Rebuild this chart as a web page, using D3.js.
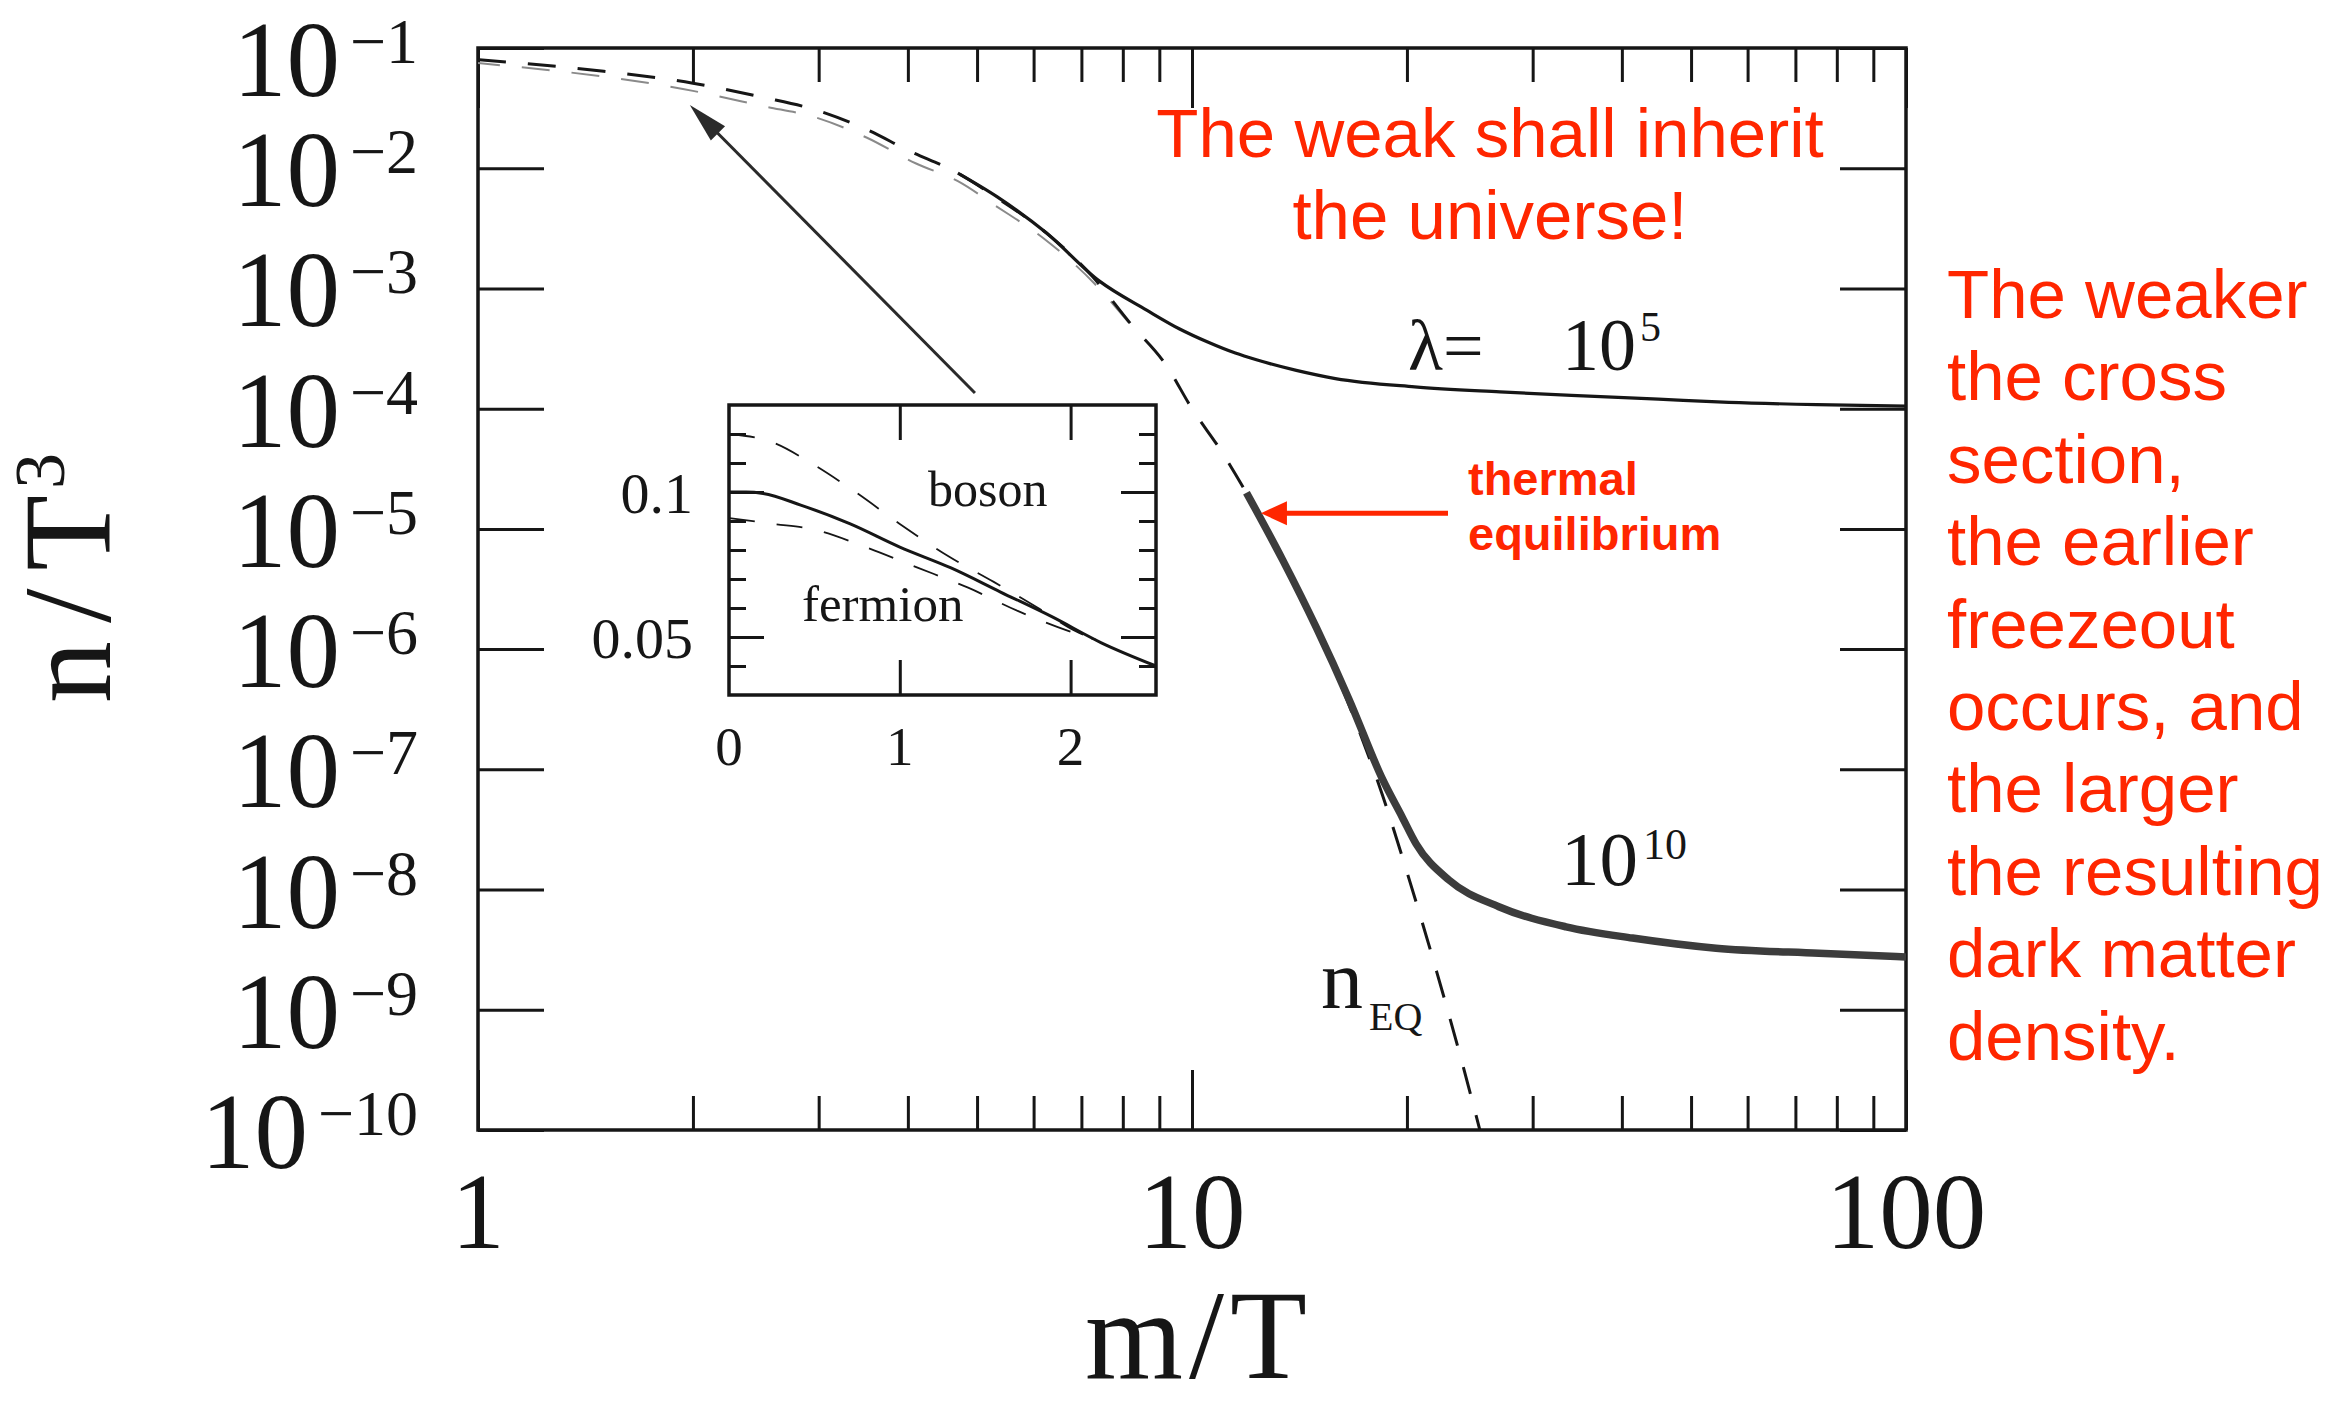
<!DOCTYPE html>
<html>
<head>
<meta charset="utf-8">
<script src="https://cdn.jsdelivr.net/npm/d3@7"></script>
<style>
  html, body { margin: 0; padding: 0; background: #fff; }
  svg { display: block; }
</style>
</head>
<body>
<svg id="chart" width="2335" height="1407"></svg>
<script>
// ---- Data: relic abundance n/T^3 versus m/T ----
// Equilibrium abundance n_EQ (dashed)
const eqX = [1, 1.5, 2, 2.5, 3, 3.5, 4, 4.7, 5.3, 6.25, 7.26, 8.2, 9.2, 10, 11, 12, 13.4, 15, 16.6, 18.5, 20, 22, 24, 25.3];
const eqY = [0.080, 0.064, 0.051, 0.039, 0.030, 0.021, 0.0141, 0.0091, 0.0058, 0.0029, 1.25e-3, 5.1e-4, 2.3e-4, 1.0e-4, 4.4e-5, 1.85e-5, 5.4e-6, 1.4e-6, 3.4e-7, 6.0e-8, 1.4e-8, 2.1e-9, 3.3e-10, 1.0e-10];
// Second, fainter equilibrium trace at early times
const eq2X = [1, 2, 2.5, 3, 3.5, 4.1, 4.7, 5.3, 6.2, 7.3, 8.2];
const eq2Y = [0.075, 0.044, 0.033, 0.026, 0.018, 0.011, 0.0078, 0.0049, 0.0026, 1.1e-3, 5.0e-4];
// Actual abundance for lambda = 1e5
const l5X = [4.7, 5.33, 6.25, 7.42, 8.64, 9.61, 10.5, 11.5, 12.31, 14, 15.88, 20.5, 27, 34, 45, 56.5, 75, 100];
const l5Y = [0.0091, 0.0058, 0.0029, 1.15e-3, 6.6e-4, 4.6e-4, 3.6e-4, 2.9e-4, 2.55e-4, 2.08e-4, 1.78e-4, 1.52e-4, 1.38e-4, 1.29e-4, 1.2e-4, 1.13e-4, 1.08e-4, 1.05e-4];
// Actual abundance for lambda = 1e10
const l10X = [11.92, 13.4, 14.94, 16.6, 18.5, 19.7, 20.6, 22.9, 26.9, 33.4, 41.4, 54.2, 75.5, 100];
const l10Y = [2.0e-5, 5.5e-6, 1.5e-6, 3.8e-7, 8.2e-8, 4.0e-8, 2.4e-8, 1.2e-8, 7.2e-9, 4.9e-9, 3.95e-9, 3.25e-9, 2.95e-9, 2.75e-9];

// Axis ticks
const xMajor = [1, 10, 100];
const xMinor = [2, 3, 4, 5, 6, 7, 8, 9, 20, 30, 40, 50, 60, 70, 80, 90];
const yExponents = [-1, -2, -3, -4, -5, -6, -7, -8, -9, -10];

// Inset: low-m/T behaviour (linear axes)
const insetSolidX = [0, 0.1, 0.2, 0.42, 0.71, 1.0, 1.3, 1.59, 1.89, 2.18, 2.5];
const insetSolidY = [0.100, 0.100, 0.0995, 0.0955, 0.089, 0.081, 0.0738, 0.0655, 0.057, 0.048, 0.040];
const bosonX = [0, 0.26, 0.48, 0.74, 1.0, 1.28, 1.55, 1.81, 2.03, 2.15];
const bosonY = [0.120, 0.117, 0.110, 0.100, 0.089, 0.078, 0.069, 0.060, 0.052, 0.049];
const fermionX = [0, 0.26, 0.5, 0.8, 1.1, 1.4, 1.69, 1.99, 2.15];
const fermionY = [0.091, 0.089, 0.087, 0.081, 0.074, 0.067, 0.059, 0.052, 0.049];
const insetXTicks = [0, 1, 2];
const insetYMajor = [0.05, 0.1];
const insetYMinor = [0.04, 0.06, 0.07, 0.08, 0.09, 0.11, 0.12];

// Annotation text
const topNote = ["The weak shall inherit", "the universe!"];
const sideNote = ["The weaker", "the cross", "section,", "the earlier", "freezeout", "occurs, and", "the larger", "the resulting", "dark matter", "density."];
const eqNote = ["thermal", "equilibrium"];

// ---- Drawing ----
(function draw() {
  const RED = "#ff2600";
  const INK = "#161616";
  const SERIF = "'Liberation Serif', 'DejaVu Serif', serif";
  const SANS = "'Liberation Sans', Arial, sans-serif";

  const svg = d3.select("#chart");
  svg.append("rect").attr("width", 2335).attr("height", 1407).attr("fill", "#fff");

  const x = d3.scaleLog().domain([1, 100]).range([478, 1906]);
  const y = d3.scaleLog().domain([1e-10, 1e-1]).range([1130, 48]);
  const [x0, x1] = x.range();
  const [y0, y1] = y.range(); // y0 bottom, y1 top

  svg.append("defs").append("clipPath").attr("id", "plotClip")
    .append("rect").attr("x", x0).attr("y", y1).attr("width", x1 - x0).attr("height", y0 - y1);

  function styleTicks(g) {
    g.select(".domain").remove();
    g.selectAll(".tick line").attr("stroke", INK).attr("stroke-width", 3);
  }

  // Minor and major ticks on all four sides
  svg.append("g").attr("transform", `translate(0,${y0})`)
    .call(d3.axisBottom(x).tickValues(xMinor).tickSize(-34).tickFormat("")).call(styleTicks);
  svg.append("g").attr("transform", `translate(0,${y0})`)
    .call(d3.axisBottom(x).tickValues(xMajor).tickSize(-60).tickFormat("")).call(styleTicks);
  svg.append("g").attr("transform", `translate(0,${y1})`)
    .call(d3.axisTop(x).tickValues(xMinor).tickSize(-34).tickFormat("")).call(styleTicks);
  svg.append("g").attr("transform", `translate(0,${y1})`)
    .call(d3.axisTop(x).tickValues(xMajor).tickSize(-60).tickFormat("")).call(styleTicks);
  const yTickVals = yExponents.map(e => Math.pow(10, e));
  svg.append("g").attr("transform", `translate(${x0},0)`)
    .call(d3.axisLeft(y).tickValues(yTickVals).tickSize(-66).tickFormat("")).call(styleTicks);
  svg.append("g").attr("transform", `translate(${x1},0)`)
    .call(d3.axisRight(y).tickValues(yTickVals).tickSize(-66).tickFormat("")).call(styleTicks);

  // Frame
  svg.append("rect").attr("x", x0).attr("y", y1).attr("width", x1 - x0).attr("height", y0 - y1)
    .attr("fill", "none").attr("stroke", INK).attr("stroke-width", 3.5);

  // Y tick labels 10^-k (the topmost one sits a little lower to stay inside the page)
  yExponents.forEach(e => {
    const shift = e === -1 ? 10 : 0;
    const t = svg.append("text").attr("x", 418).attr("y", y(Math.pow(10, e)) + 38 + shift)
      .attr("text-anchor", "end").attr("font-family", SERIF).attr("fill", INK);
    t.append("tspan").attr("font-size", 107).text("10");
    t.append("tspan").attr("font-size", 64).attr("dx", 10).attr("dy", -33).text("\u2212" + (-e));
  });
  // X tick labels
  xMajor.forEach(v => {
    svg.append("text").attr("x", x(v)).attr("y", 1248).attr("text-anchor", "middle")
      .attr("font-family", SERIF).attr("font-size", 107).attr("fill", INK).text(String(v));
  });

  // Axis titles
  const yTitle = svg.append("text").attr("transform", "translate(110,578) rotate(-90)")
    .attr("text-anchor", "middle").attr("font-family", SERIF).attr("fill", INK);
  yTitle.append("tspan").attr("font-size", 124).attr("letter-spacing", 18).text("n/T");
  yTitle.append("tspan").attr("font-size", 72).attr("dx", -12).attr("dy", -46).text("3");
  svg.append("text").attr("x", 1199).attr("y", 1378).attr("text-anchor", "middle")
    .attr("font-family", SERIF).attr("font-size", 126).attr("letter-spacing", 6).attr("fill", INK).text("m/T");

  // Curves
  const line = d3.line().x(d => x(d[0])).y(d => y(d[1])).curve(d3.curveMonotoneX);
  const zip = (a, b) => a.map((v, i) => [v, b[i]]);
  const curves = svg.append("g").attr("clip-path", "url(#plotClip)");

  curves.append("path").datum(zip(eq2X, eq2Y)).attr("d", line)
    .attr("fill", "none").attr("stroke", "#8a8a8a").attr("stroke-width", 2)
    .attr("stroke-dasharray", "28,22").attr("stroke-dashoffset", 6);
  curves.append("path").datum(zip(eqX, eqY)).attr("d", line)
    .attr("fill", "none").attr("stroke", INK).attr("stroke-width", 3)
    .attr("stroke-dasharray", "28,22");
  curves.append("path").datum(zip(l5X, l5Y)).attr("d", line)
    .attr("fill", "none").attr("stroke", INK).attr("stroke-width", 3.2);
  curves.append("path").datum(zip(l10X, l10Y)).attr("d", line)
    .attr("fill", "none").attr("stroke", "#3c3c3c").attr("stroke-width", 7.5);

  // Curve labels
  const lab5 = svg.append("text").attr("y", 370).attr("font-family", SERIF).attr("fill", INK);
  lab5.append("tspan").attr("x", 1408).attr("font-size", 72).text("\u03bb=");
  lab5.append("tspan").attr("x", 1562).attr("font-size", 74).text("10");
  lab5.append("tspan").attr("x", 1640).attr("font-size", 42).attr("dy", -29).text("5");

  const lab10 = svg.append("text").attr("y", 885).attr("font-family", SERIF).attr("fill", INK);
  lab10.append("tspan").attr("x", 1561).attr("font-size", 77).text("10");
  lab10.append("tspan").attr("x", 1643).attr("font-size", 44).attr("dy", -26).text("10");

  const labEq = svg.append("text").attr("y", 1008).attr("font-family", SERIF).attr("fill", INK);
  labEq.append("tspan").attr("x", 1321).attr("font-size", 84).text("n");
  labEq.append("tspan").attr("x", 1369).attr("font-size", 40).attr("dy", 22).text("EQ");

  // Inset
  const ix = d3.scaleLinear().domain([0, 2.5]).range([729, 1156]);
  const iy = d3.scaleLinear().domain([0.03, 0.13]).range([695, 405]);
  const [ix0, ix1] = ix.range();
  const [iy0, iy1] = iy.range();
  const inset = svg.append("g");
  inset.append("rect").attr("x", ix0).attr("y", iy1).attr("width", ix1 - ix0).attr("height", iy0 - iy1)
    .attr("fill", "#fff");

  const ixInner = insetXTicks.filter(v => v > 0);
  inset.append("g").attr("transform", `translate(0,${iy0})`)
    .call(d3.axisBottom(ix).tickValues(ixInner).tickSize(-35).tickFormat("")).call(styleTicks);
  inset.append("g").attr("transform", `translate(0,${iy1})`)
    .call(d3.axisTop(ix).tickValues(ixInner).tickSize(-35).tickFormat("")).call(styleTicks);
  inset.append("g").attr("transform", `translate(${ix0},0)`)
    .call(d3.axisLeft(iy).tickValues(insetYMinor).tickSize(-17).tickFormat("")).call(styleTicks);
  inset.append("g").attr("transform", `translate(${ix0},0)`)
    .call(d3.axisLeft(iy).tickValues(insetYMajor).tickSize(-35).tickFormat("")).call(styleTicks);
  inset.append("g").attr("transform", `translate(${ix1},0)`)
    .call(d3.axisRight(iy).tickValues(insetYMinor).tickSize(-17).tickFormat("")).call(styleTicks);
  inset.append("g").attr("transform", `translate(${ix1},0)`)
    .call(d3.axisRight(iy).tickValues(insetYMajor).tickSize(-35).tickFormat("")).call(styleTicks);

  const iline = d3.line().x(d => ix(d[0])).y(d => iy(d[1])).curve(d3.curveMonotoneX);
  inset.append("path").datum(zip(bosonX, bosonY)).attr("d", iline)
    .attr("fill", "none").attr("stroke", INK).attr("stroke-width", 1.8).attr("stroke-dasharray", "26,22");
  inset.append("path").datum(zip(fermionX, fermionY)).attr("d", iline)
    .attr("fill", "none").attr("stroke", INK).attr("stroke-width", 1.8).attr("stroke-dasharray", "26,22");
  inset.append("path").datum(zip(insetSolidX, insetSolidY)).attr("d", iline)
    .attr("fill", "none").attr("stroke", INK).attr("stroke-width", 3);

  inset.append("rect").attr("x", ix0).attr("y", iy1).attr("width", ix1 - ix0).attr("height", iy0 - iy1)
    .attr("fill", "none").attr("stroke", INK).attr("stroke-width", 3.5);

  insetYMajor.forEach(v => {
    inset.append("text").attr("x", 693).attr("y", iy(v) + 21).attr("text-anchor", "end")
      .attr("font-family", SERIF).attr("font-size", 58).attr("fill", INK).text(String(v));
  });
  insetXTicks.forEach(v => {
    inset.append("text").attr("x", ix(v)).attr("y", 765).attr("text-anchor", "middle")
      .attr("font-family", SERIF).attr("font-size", 55).attr("fill", INK).text(String(v));
  });
  inset.append("text").attr("x", 928).attr("y", 506).attr("font-family", SERIF).attr("font-size", 50)
    .attr("fill", INK).text("boson");
  inset.append("text").attr("x", 802).attr("y", 621).attr("font-family", SERIF).attr("font-size", 51)
    .attr("fill", INK).text("fermion");

  // Arrows
  function arrow(g, from, to, color, width, headLen, headHalf) {
    const dx = to[0] - from[0], dy = to[1] - from[1];
    const len = Math.hypot(dx, dy);
    const ux = dx / len, uy = dy / len;
    const bx = to[0] - ux * headLen, by = to[1] - uy * headLen;
    g.append("line").attr("x1", from[0]).attr("y1", from[1]).attr("x2", bx + ux * 2).attr("y2", by + uy * 2)
      .attr("stroke", color).attr("stroke-width", width);
    g.append("path")
      .attr("d", `M${to[0]},${to[1]}L${bx - uy * headHalf},${by + ux * headHalf}L${bx + uy * headHalf},${by - ux * headHalf}Z`)
      .attr("fill", color);
  }
  const notes = svg.append("g");
  arrow(notes, [ix(1.44), iy1 - 12], [x(1.98), y(0.0336)], "#2a2a2a", 3, 40, 10);
  arrow(notes, [1448, y(1.35e-5)], [x(12.49), y(1.35e-5)], RED, 5, 26, 12);

  // Red commentary
  const topText = notes.append("text").attr("text-anchor", "middle").attr("font-family", SANS)
    .attr("font-size", 69).attr("fill", RED);
  topNote.forEach((s, i) => topText.append("tspan").attr("x", 1490).attr("y", 157 + i * 82).text(s));

  const side = notes.append("text").attr("font-family", SANS).attr("font-size", 69).attr("fill", RED);
  sideNote.forEach((s, i) => side.append("tspan").attr("x", 1947).attr("y", 318 + i * 82.4).text(s));

  const eqT = notes.append("text").attr("font-family", SANS).attr("font-weight", "bold")
    .attr("font-size", 47).attr("fill", RED);
  eqNote.forEach((s, i) => eqT.append("tspan").attr("x", 1468).attr("y", 495 + i * 55).text(s));
})();
</script>
</body>
</html>
